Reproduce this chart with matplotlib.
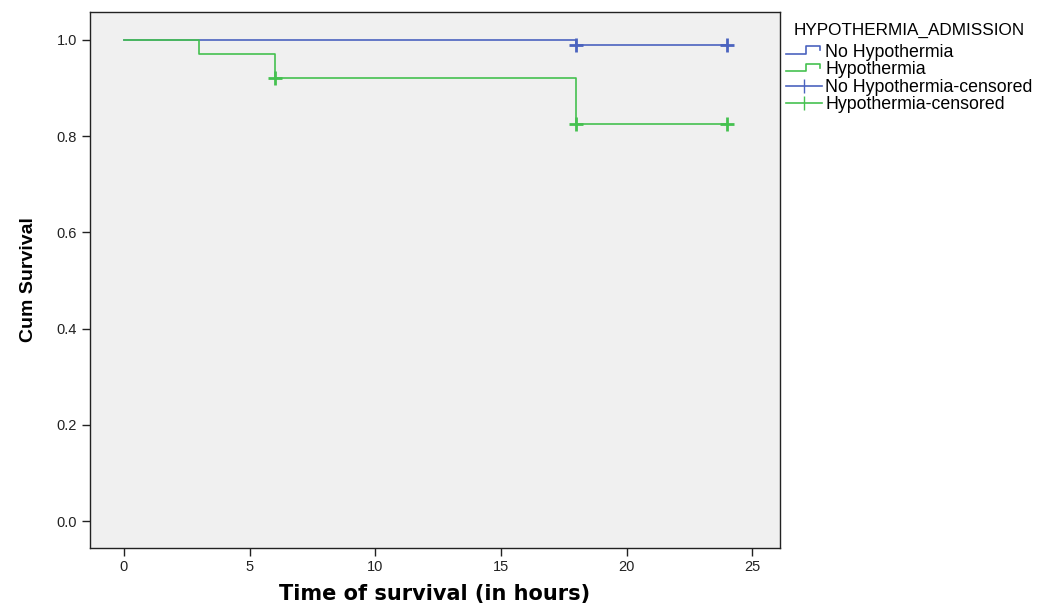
import matplotlib
matplotlib.use("Agg")
import matplotlib.pyplot as plt
from matplotlib.legend_handler import HandlerBase
from matplotlib.lines import Line2D

# Kaplan-Meier steps
no_hypo_t = [0, 18, 24]
no_hypo_s = [1.0, 0.99, 0.99]
no_hypo_cens_t = [18, 24]
no_hypo_cens_s = [0.99, 0.99]

hypo_t = [0, 3, 6, 18, 24]
hypo_s = [1.0, 0.971, 0.921, 0.826, 0.826]
hypo_cens_t = [6, 18, 24]
hypo_cens_s = [0.921, 0.826, 0.826]

x_ticks = [0, 5, 10, 15, 20, 25]
y_ticks = [0.0, 0.2, 0.4, 0.6, 0.8, 1.0]

blue = '#4b63bf'
green = '#45c150'

plt.rcParams['font.family'] = ['Liberation Sans', 'DejaVu Sans']


class StepHandler(HandlerBase):
    # legend handle drawn as a little step
    def create_artists(self, legend, orig_handle, xdescent, ydescent,
                       width, height, fontsize, trans):
        xs = [0, 0.55, 0.55, 0.95, 0.95]
        ys = [0.25, 0.25, 0.85, 0.85, 0.55]
        ln = Line2D([x * width - xdescent for x in xs],
                    [y * height - ydescent for y in ys],
                    color=orig_handle.get_color(), lw=1.2, transform=trans)
        return [ln]


fig = plt.figure(figsize=(10.42, 6.07), dpi=100)
ax = fig.add_axes([0.0864, 0.0972, 0.6622, 0.8830])
ax.set_facecolor('#f0f0f0')

l1, = ax.step(no_hypo_t, no_hypo_s, where='post', color=blue, lw=1.2)
l2, = ax.step(hypo_t, hypo_s, where='post', color=green, lw=1.2)
c1, = ax.plot(no_hypo_cens_t, no_hypo_cens_s, ls='none', marker='+',
              ms=10, mew=2, color=blue)
c2, = ax.plot(hypo_cens_t, hypo_cens_s, ls='none', marker='+',
              ms=10, mew=2, color=green)

ax.set_xlim(-1.35, 26.1)
ax.set_ylim(-0.056, 1.058)
ax.set_xticks(x_ticks)
ax.set_yticks(y_ticks)
ax.set_yticklabels([f'{v:.1f}' for v in y_ticks])
ax.tick_params(axis='both', labelsize=10.5, colors='#222222', length=6, width=1)
ax.tick_params(axis='x', pad=3)
for s in ax.spines.values():
    s.set_color('#222222')
    s.set_linewidth(1)

ax.set_xlabel('Time of survival (in hours)', fontsize=15, fontweight='bold',
              labelpad=7, family=['DejaVu Sans'])
ax.set_ylabel('Cum Survival', fontsize=14, fontweight='bold', labelpad=14,
              family=['Liberation Sans Narrow', 'Liberation Sans', 'DejaVu Sans'])

c1_h = Line2D([], [], color=blue, marker='|', ms=10, lw=1.2)
c2_h = Line2D([], [], color=green, marker='|', ms=10, lw=1.2)
leg = fig.legend([l1, l2, c1_h, c2_h],
                 ['No Hypothermia', 'Hypothermia',
                  'No Hypothermia-censored', 'Hypothermia-censored'],
                 handler_map={l1: StepHandler(), l2: StepHandler()},
                 title='HYPOTHERMIA_ADMISSION', loc='upper left',
                 bbox_to_anchor=(0.741, 0.985), frameon=False,
                 fontsize=12.8, title_fontsize=12.3, handlelength=2.0,
                 handletextpad=0.2, labelspacing=0.02, borderpad=0.3)
leg._legend_box.sep = 4

fig.savefig('out.png', dpi=100)
